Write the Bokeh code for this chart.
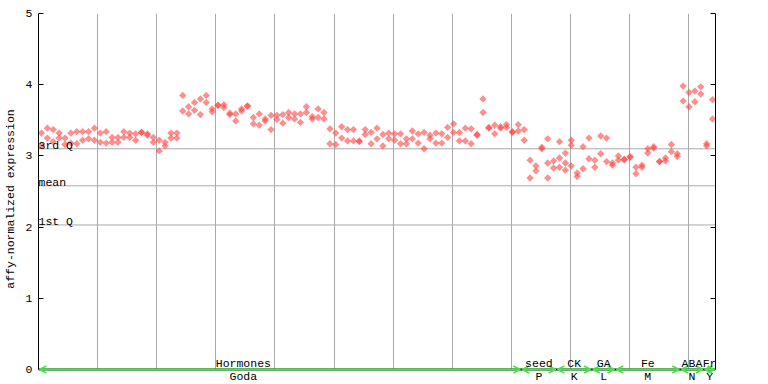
import numpy as np
from bokeh.plotting import figure
from bokeh.models import (Range1d, LinearAxis, FixedTicker, Span, Label, Arrow,
                          OpenHead, ColumnDataSource)
from bokeh.embed import file_html
from bokeh.resources import INLINE

# ---- data ----
rep1 = [3.32, 3.39, 3.37, 3.32, 3.25, 3.32, 3.34, 3.34, 3.34, 3.39,
        3.32, 3.34, 3.26, 3.26, 3.34, 3.32, 3.31, 3.33, 3.31, 3.26,
        3.22, 3.19, 3.32, 3.32, 3.85, 3.69, 3.75, 3.80, 3.85, 3.66,
        3.71, 3.72, 3.60, 3.59, 3.66, 3.70, 3.54, 3.59, 3.52, 3.57,
        3.57, 3.58, 3.61, 3.59, 3.59, 3.69, 3.55, 3.66, 3.61, 3.38,
        3.32, 3.41, 3.37, 3.37, 3.21, 3.37, 3.33, 3.39, 3.30, 3.32,
        3.31, 3.31, 3.24, 3.35, 3.31, 3.33, 3.29, 3.32, 3.31, 3.40,
        3.45, 3.33, 3.39, 3.38, 3.30, 3.80, 3.40, 3.43, 3.41, 3.44,
        3.34, 3.44, 3.37, 2.94, 2.86, 3.12, 3.24, 2.93, 3.20, 3.04,
        3.22, 2.76, 3.13, 3.25, 2.94, 3.28, 3.25, 2.90, 3.00, 2.95,
        2.99, 2.84, 2.87, 3.10, 3.13, 2.92, 2.97, 3.16, 3.03, 3.98,
        3.89, 3.91, 3.97, 3.17, 3.79]
rep2 = [3.15, 3.25, 3.20, 3.25, 3.16, 3.18, 3.17, 3.22, 3.24, 3.22,
        3.19, 3.18, 3.19, 3.19, 3.26, 3.26, 3.22, 3.33, 3.29, 3.19,
        3.07, 3.14, 3.25, 3.25, 3.63, 3.59, 3.64, 3.58, 3.75, 3.62,
        3.71, 3.68, 3.58, 3.49, 3.63, 3.70, 3.45, 3.43, 3.49, 3.37,
        3.51, 3.46, 3.54, 3.52, 3.47, 3.61, 3.52, 3.54, 3.52, 3.17,
        3.16, 3.25, 3.21, 3.21, 3.20, 3.30, 3.17, 3.24, 3.14, 3.24,
        3.22, 3.17, 3.17, 3.24, 3.18, 3.10, 3.24, 3.18, 3.18, 3.26,
        3.33, 3.21, 3.21, 3.17, 3.29, 3.61, 3.39, 3.31, 3.39, 3.40,
        3.33, 3.35, 3.22, 2.69, 2.79, 3.10, 2.90, 2.83, 2.97, 2.90,
        3.15, 2.71, 2.82, 2.96, 2.84, 3.03, 2.92, 2.87, 2.94, 2.95,
        2.98, 2.75, 2.84, 3.04, 3.11, 2.92, 2.93, 3.06, 2.99, 3.77,
        3.69, 3.76, 3.87, 3.14, 3.52]
extra_idx = [86, 88, 89, 90]
extra_val = [2.69, 2.84, 2.80, 2.86]

stat_names = ["3rd Q", "mean", "1st Q"]
stat_values = [3.10, 2.58, 2.03]

group_top = ["Hormones", "seed", "CK", "GA", "Fe", "ABA", "Fr"]
group_bottom = ["Goda", "P", "K", "L", "M", "N", "Y"]
group_first = [0, 82, 88, 94, 98, 109, 113]
group_last = [81, 87, 93, 97, 108, 112, 114]
group_label_x = [34.8, 85, 91, 96, 103.5, 111, 114]

y_ticks = [0, 1, 2, 3, 4, 5]
n = len(rep1)
grid_x = [10.04 * i for i in range(1, 12)]

FONT = "Liberation Mono"
FS = "11.5px"
RED = "#ff4444"
GREEN = "#44e644"
GRID = "#aaaaaa"

Y_BOTTOM = -15 / 71.2   # leaves room under 0 for the group labels

xs = [k + 0.5 for k in range(n)]
px = xs + xs + [i + 0.5 for i in extra_idx]
py = rep1 + rep2 + extra_val
src = ColumnDataSource(dict(x=px, y=py))

p = figure(width=768, height=384, output_backend="svg", toolbar_location=None,
           x_range=Range1d(0, n), y_range=Range1d(Y_BOTTOM, 5),
           min_border_left=38, min_border_right=53, min_border_top=13,
           min_border_bottom=0)
p.outline_line_color = None
p.background_fill_color = "white"
p.border_fill_color = "white"

p.xaxis.visible = False
p.ygrid.visible = False
xg = p.xgrid[0]
xg.ticker = FixedTicker(ticks=grid_x)
xg.grid_line_color = GRID
xg.grid_line_width = 1
if hasattr(xg, "cross_bounds"):
    xg.cross_bounds = (0, 5)
else:
    xg.visible = False
    gsrc = ColumnDataSource(dict(x=grid_x, y0=[0] * len(grid_x), y1=[5] * len(grid_x)))
    gr = p.segment(x0="x", y0="y0", x1="x", y1="y1", source=gsrc,
                   line_color=GRID, line_width=1)
    gr.level = "underlay"

ya = p.yaxis[0]
ya.bounds = (0, 5)
ya.ticker = FixedTicker(ticks=y_ticks)
ya.major_tick_in = 5
ya.major_tick_out = 0
ya.minor_tick_line_color = None
ya.axis_line_color = "black"
ya.major_tick_line_color = "black"
ya.major_label_text_font = FONT
ya.major_label_text_font_size = FS
ya.major_label_text_color = "black"
ya.major_label_standoff = 6
ya.axis_label = "affy-normalized expression"
ya.axis_label_text_font = FONT
ya.axis_label_text_font_size = FS
ya.axis_label_text_font_style = "normal"
ya.axis_label_text_color = "black"
ya.axis_label_standoff = 6

ra = LinearAxis(ticker=FixedTicker(ticks=y_ticks), major_tick_in=5, major_tick_out=0,
                minor_tick_line_color=None, bounds=(0, 5),
                major_label_overrides={t: "" for t in y_ticks},
                axis_line_color="black", major_tick_line_color="black")
p.add_layout(ra, "right")

for name, v in zip(stat_names, stat_values):
    p.add_layout(Span(location=v, dimension="width", line_color=GRID,
                      line_width=1, level="underlay"))
    p.add_layout(Label(x=0, y=v, text=name, y_offset=3, x_offset=0,
                       text_baseline="alphabetic", text_font=FONT,
                       text_font_size=FS, text_color="black"))

p.scatter("x", "y", source=src, marker="square", angle=np.pi / 4, size=5.2,
          fill_color=RED, fill_alpha=0.6, line_color=None)

p.add_layout(Span(location=0, dimension="width", line_color="black", line_width=2))

for top, bot, a, b, lx in zip(group_top, group_bottom, group_first, group_last, group_label_x):
    p.add_layout(Arrow(x_start=a + 0.15, x_end=b + 1 - 0.15, y_start=0, y_end=0,
                       line_color=GREEN, line_width=2,
                       start=OpenHead(size=7, line_color=GREEN, line_width=1.5),
                       end=OpenHead(size=7, line_color=GREEN, line_width=1.5)))
    p.add_layout(Label(x=lx, y=0, text=top, y_offset=6, text_align="center",
                       text_baseline="middle", text_font=FONT, text_font_size=FS,
                       text_color="black"))
    p.add_layout(Label(x=lx, y=0, text=bot, y_offset=-7, text_align="center",
                       text_baseline="middle", text_font=FONT, text_font_size=FS,
                       text_color="black"))

open("out.html", "w").write(file_html(p, INLINE))
